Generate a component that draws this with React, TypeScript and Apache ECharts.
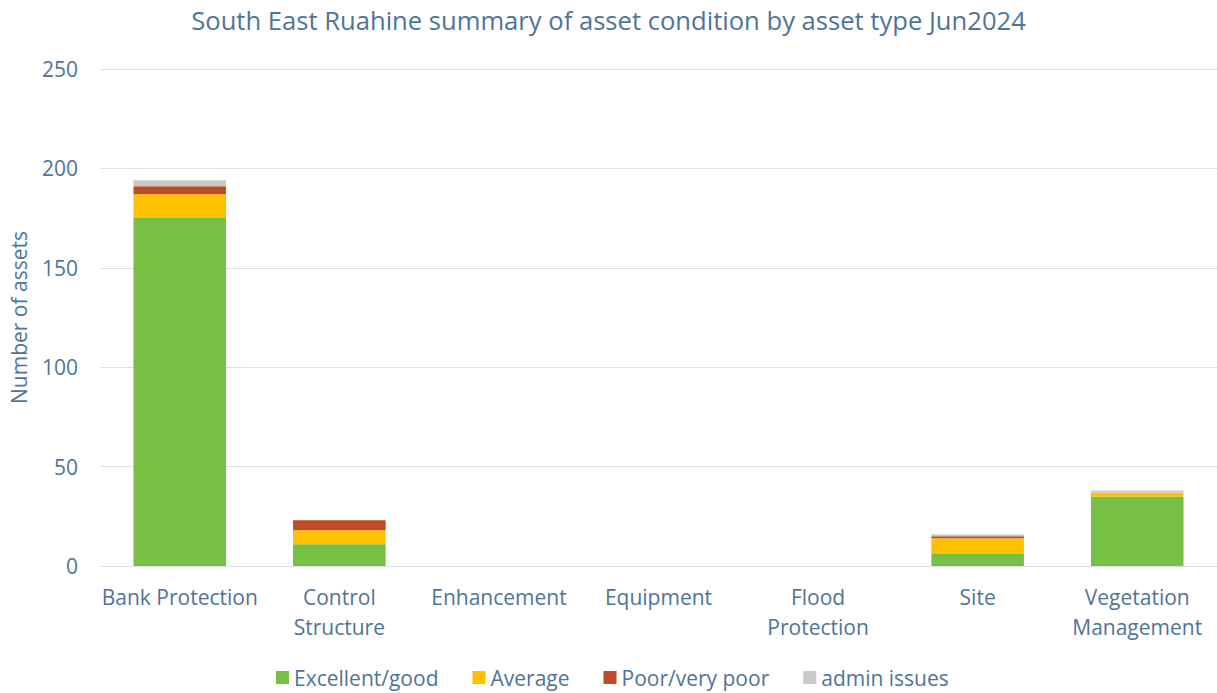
import React, { useEffect, useRef } from "react";
import * as echarts from "echarts";

const categories = [
  "Bank Protection",
  "Control\nStructure",
  "Enhancement",
  "Equipment",
  "Flood\nProtection",
  "Site",
  "Vegetation\nManagement",
];
const excellentGood = [175, 11, 0, 0, 0, 6, 35];
const average = [12, 7, 0, 0, 0, 8, 2];
const poorVeryPoor = [4, 5, 0, 0, 0, 1, 0];
const adminIssues = [3, 0, 0, 0, 0, 1, 1];
const yTicks = { min: 0, max: 250, interval: 50 };

const textColor = "#4f7499";
const font = "'Open Sans', 'Liberation Sans', sans-serif";

export default function App() {
  const ref = useRef<HTMLDivElement>(null);
  useEffect(() => {
    if (!ref.current) return;
    const chart = echarts.init(ref.current, undefined, { renderer: "svg" });
    const mk = (name: string, data: number[], color: string) => ({
      name,
      type: "bar",
      stack: "total",
      data,
      barCategoryGap: "42%",
      itemStyle: { color },
      emphasis: { disabled: true },
    });
    chart.setOption({
      animation: false,
      textStyle: { fontFamily: font },
      title: {
        text: "South East Ruahine summary of asset condition by asset type Jun2024",
        left: "center",
        top: 2,
        textStyle: { color: textColor, fontSize: 25.6, fontWeight: "normal", fontFamily: font },
      },
      legend: {
        bottom: 0,
        left: 271,
        itemWidth: 13,
        itemHeight: 13,
        itemGap: 34,
        icon: "rect",
        textStyle: { color: textColor, fontSize: 21, fontFamily: font },
        data: ["Excellent/good", "Average", "Poor/very poor", "admin issues"],
      },
      grid: { left: 100, width: 1122, top: 69, bottom: 127, containLabel: false },
      xAxis: {
        type: "category",
        data: categories,
        axisLine: { show: true, lineStyle: { color: "#d9e1e8", width: 1 } },
        axisTick: { show: false },
        axisLabel: {
          color: textColor,
          fontSize: 21,
          margin: 16,
          lineHeight: 30,
          interval: 0,
          fontFamily: font,
        },
      },
      yAxis: {
        type: "value",
        min: yTicks.min,
        max: yTicks.max,
        interval: yTicks.interval,
        name: "Number of assets",
        nameLocation: "middle",
        nameGap: 71,
        nameTextStyle: { color: textColor, fontSize: 21, fontFamily: font },
        axisLine: { show: false },
        axisTick: { show: false },
        axisLabel: { color: textColor, fontSize: 21, margin: 22, fontFamily: font },
        splitLine: { lineStyle: { color: "#d9e1e8", width: 1 } },
      },
      series: [
        mk("Excellent/good", excellentGood, "#77bf45"),
        mk("Average", average, "#ffc000"),
        mk("Poor/very poor", poorVeryPoor, "#bf4b28"),
        mk("admin issues", adminIssues, "#c9c9c9"),
      ],
    });
    return () => chart.dispose();
  }, []);
  return (
    <div
      ref={ref}
      style={{ position: "absolute", left: 0, top: 0, width: 1217, height: 693 }}
    />
  );
}
